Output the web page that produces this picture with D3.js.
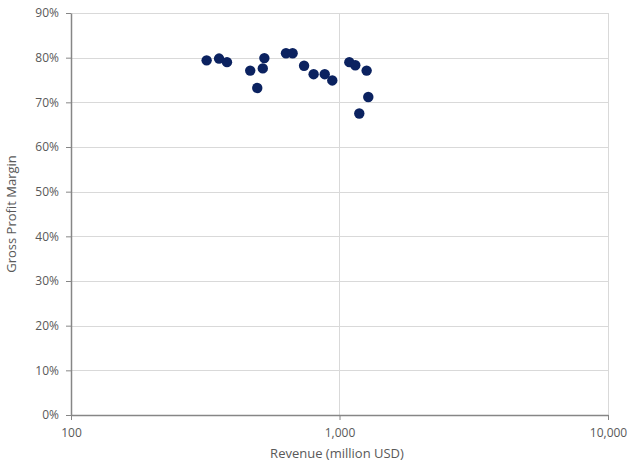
<!DOCTYPE html>
<html><head><meta charset="utf-8">
<script src="https://cdn.jsdelivr.net/npm/d3@7"></script>
<style>body{margin:0;background:#fff}svg{display:block}text{font-family:"Open Sans","Noto Sans",sans-serif;fill:#595959}</style>
</head><body><svg id="c" width="640" height="465"></svg>
<script>
const revenue = [320, 356, 381, 465, 494, 518, 525, 632, 669, 738, 801, 881, 940, 1088, 1145, 1185, 1262, 1280];
const margin  = [0.794, 0.798, 0.790, 0.771, 0.732, 0.776, 0.799, 0.810, 0.810, 0.782, 0.763, 0.763, 0.749, 0.790, 0.783, 0.675, 0.771, 0.712];
const xTicks = [100, 1000, 10000];
const yTicks = [0, 0.1, 0.2, 0.3, 0.4, 0.5, 0.6, 0.7, 0.8, 0.9];

const svg = d3.select("#c");
const L = 71, R = 608, T = 13, B = 415;
const x = d3.scaleLog().domain([100, 10000]).range([L, R]);
const y = d3.scaleLinear().domain([0, 0.9]).range([B, T]);

// gridlines
svg.append("g").selectAll("line").data(yTicks.slice(1)).join("line")
  .attr("x1", L).attr("x2", R).attr("y1", d => Math.round(y(d))+0.5).attr("y2", d => Math.round(y(d))+0.5)
  .attr("stroke", "#d9d9d9").attr("stroke-width", 1);
svg.append("g").selectAll("line").data(xTicks.slice(1)).join("line")
  .attr("x1", d => Math.round(x(d))+0.5).attr("x2", d => Math.round(x(d))+0.5).attr("y1", T).attr("y2", B)
  .attr("stroke", "#d9d9d9").attr("stroke-width", 1);

const fmtX = d3.format(",");
const xAxis = svg.append("g").attr("transform", `translate(0,${B})`)
  .call(d3.axisBottom(x).tickValues(xTicks).tickFormat(fmtX).tickSizeInner(5).tickSizeOuter(0).tickPadding(8));
const yAxis = svg.append("g").attr("transform", `translate(${L},0)`)
  .call(d3.axisLeft(y).tickValues(yTicks).tickFormat(d3.format(".0%")).tickSizeInner(5).tickSizeOuter(0).tickPadding(7));
[xAxis, yAxis].forEach(g => {
  g.select(".domain").attr("stroke", "#868686").attr("stroke-width", 1.5);
  g.selectAll(".tick line").attr("stroke", "#868686");
  g.selectAll("text").attr("font-size", 12).attr("fill", "#595959").style("font-family", '"Open Sans","Noto Sans",sans-serif');
});

// points
svg.append("g").selectAll("circle").data(revenue.map((r,i)=>[r, margin[i]])).join("circle")
  .attr("cx", d => x(d[0])).attr("cy", d => y(d[1])).attr("r", 5.2).attr("fill", "#0b2260");

svg.append("text").attr("x", 337).attr("y", 458).attr("text-anchor", "middle").attr("font-size", 13).text("Revenue (million USD)");
svg.append("text").attr("transform", `translate(16,${(T+B)/2}) rotate(-90)`).attr("text-anchor", "middle").attr("font-size", 13).text("Gross Profit Margin");
</script></body></html>
